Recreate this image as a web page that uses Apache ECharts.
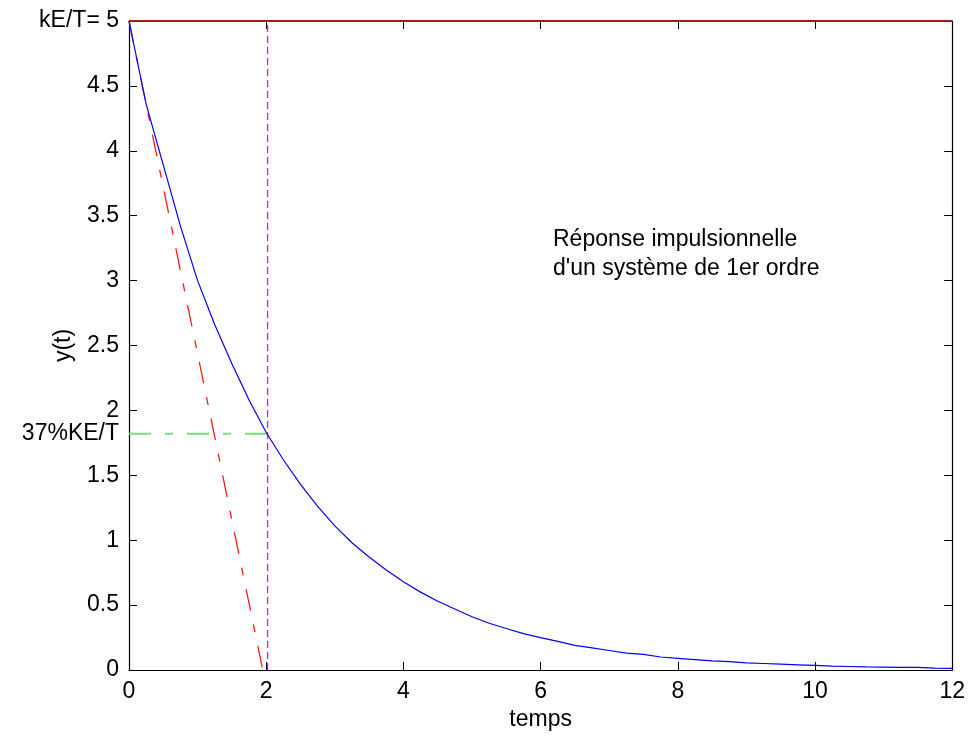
<!DOCTYPE html>
<html>
<head>
<meta charset="utf-8">
<script src="https://cdn.jsdelivr.net/npm/echarts@6/dist/echarts.min.js"></script>
<style>
  html, body { margin: 0; padding: 0; background: #fff; }
  #chart { width: 968px; height: 738px; }
</style>
</head>
<body>
<div id="chart"></div>
<script>
// Impulse response of a first-order system, sampled every 0.25 s
const temps = [
  0, 0.25, 0.5, 0.75, 1, 1.25, 1.5, 1.75, 2, 2.25, 2.5, 2.75, 3, 3.25, 3.5, 3.75,
  4, 4.25, 4.5, 4.75, 5, 5.25, 5.5, 5.75, 6, 6.25, 6.5, 6.75, 7, 7.25, 7.5, 7.75,
  8, 8.25, 8.5, 8.75, 9, 9.25, 9.5, 9.75, 10, 10.25, 10.5, 10.75, 11, 11.25, 11.5, 11.75, 12
];
const reponse = [
  5.00, 4.36, 3.89, 3.42, 3.00, 2.66, 2.36, 2.08, 1.83, 1.62, 1.43, 1.26, 1.11, 0.98, 0.87, 0.77,
  0.68, 0.60, 0.53, 0.47, 0.41, 0.36, 0.32, 0.28, 0.25, 0.22, 0.19, 0.17, 0.15, 0.13, 0.12, 0.10,
  0.09, 0.08, 0.07, 0.065, 0.055, 0.05, 0.045, 0.04, 0.035, 0.03, 0.027, 0.024, 0.022, 0.02, 0.02, 0.014, 0.012
];

// Reference levels and construction lines
const gainLevel = 5;          // kE/T
const level37 = 1.82;         // 37 % of kE/T, read on the curve
const tauTime = 2.02;         // time constant marker
const tangentEnd = 1.95;      // where the tangent at t=0 crosses zero
const label37 = '37%KE/T';

const xTicks = [0, 2, 4, 6, 8, 10, 12];
const yTicks = [0, 0.5, 1, 1.5, 2, 2.5, 3, 3.5, 4, 4.5, 5];

const FONT = '"Liberation Sans", Arial, sans-serif';
const FS = 23;

const chart = echarts.init(document.getElementById('chart'), null, { renderer: 'canvas' });

// fresh style objects for every axis
const line = () => ({ show: true, onZero: false, lineStyle: { color: '#000', width: 1.2 } });
const tick = () => ({ show: true, inside: true, length: 8, lineStyle: { color: '#000', width: 1 } });
const dashDot = [22, 14, 8, 14];

chart.setOption({
  animation: false,
  backgroundColor: '#fff',
  grid: { left: 129, right: 15, top: 21, bottom: 68, containLabel: false },
  xAxis: [
    {
      type: 'value', position: 'bottom', gridIndex: 0,
      min: xTicks[0], max: xTicks[xTicks.length - 1], interval: 2,
      name: 'temps', nameLocation: 'middle', nameGap: 38, nameMoveOverlap: false,
      nameTextStyle: { fontFamily: FONT, fontSize: FS, color: '#000' },
      axisLine: line(), axisTick: tick(), splitLine: { show: false },
      axisLabel: { fontFamily: FONT, fontSize: FS, color: '#000', margin: 10 }
    },
    {
      type: 'value', position: 'top', gridIndex: 0,
      min: xTicks[0], max: xTicks[xTicks.length - 1], interval: 2,
      axisLine: line(), axisTick: tick(), axisLabel: { show: false }, splitLine: { show: false }
    }
  ],
  yAxis: [
    {
      type: 'value', position: 'left', gridIndex: 0,
      min: yTicks[0], max: yTicks[yTicks.length - 1], interval: 0.5,
      name: 'y(t)', nameLocation: 'middle', nameGap: 54, nameRotate: 90, nameMoveOverlap: false,
      nameTextStyle: { fontFamily: FONT, fontSize: FS, color: '#000' },
      axisLine: line(), axisTick: tick(), splitLine: { show: false },
      axisLabel: {
        fontFamily: FONT, fontSize: FS, color: '#000', margin: 10,
        formatter: v => (v === gainLevel ? 'kE/T= ' + v : String(v))
      }
    },
    {
      type: 'value', position: 'right', gridIndex: 0,
      min: yTicks[0], max: yTicks[yTicks.length - 1], interval: 0.5,
      axisLine: line(), axisTick: tick(), axisLabel: { show: false }, splitLine: { show: false }
    }
  ],
  graphic: [
    {
      id: 'annotation', type: 'text', left: 553, top: 225,
      style: {
        text: 'Réponse impulsionnelle\nd\'un système de 1er ordre',
        font: FS + 'px ' + FONT, fill: '#000', lineHeight: 29
      }
    }
  ],
  series: [
    {
      name: 'réponse', type: 'line', showSymbol: false, smooth: false,
      data: temps.map((t, i) => [t, reponse[i]]),
      lineStyle: { color: '#0000ff', width: 1.2 }, z: 5
    },
    {
      name: 'tangente', type: 'line', showSymbol: false,
      data: [[0, gainLevel], [tangentEnd, 0]],
      lineStyle: { color: '#ff1a1a', width: 1.3, type: dashDot }, z: 4
    },
    {
      name: 'tau', type: 'line', showSymbol: false,
      data: [[tauTime, 0], [tauTime, gainLevel]],
      lineStyle: { color: '#ff00ff', width: 1.3, type: [7, 4] }, z: 3
    },
    {
      name: 'niveau 37%', type: 'line', showSymbol: false,
      data: [[0, level37], [tauTime, level37]],
      lineStyle: { color: '#6fe36f', width: 2, type: dashDot }, z: 3
    },
    {
      name: 'kE/T', type: 'line', showSymbol: false,
      data: [[0, gainLevel], [12, gainLevel]],
      lineStyle: { color: '#a11a1a', width: 2.2 }, z: 6
    }
  ]
});

// Tick-style label for the 37 % level, placed through the axis scale
const p37 = chart.convertToPixel({ xAxisIndex: 0, yAxisIndex: 0 }, [0, level37]);
chart.setOption({
  graphic: [
    {
      id: 'label37', type: 'text', x: p37[0] - 10, y: p37[1],
      style: {
        text: label37, font: FS + 'px ' + FONT, fill: '#000',
        align: 'right', verticalAlign: 'middle'
      }
    }
  ]
});
</script>
</body>
</html>
